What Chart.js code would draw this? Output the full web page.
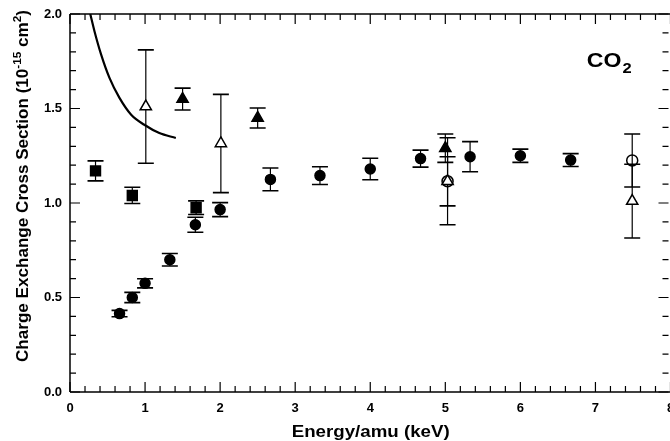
<!DOCTYPE html>
<html>
<head>
<meta charset="utf-8">
<script src="https://cdn.jsdelivr.net/npm/chart.js@4.4.1/dist/chart.umd.min.js"></script>
<style>
  html, body { margin: 0; padding: 0; background: #fff; overflow: hidden; width: 670px; height: 441px; }
  #wrap { width: 679px; height: 441px; }
</style>
</head>
<body>
<div id="wrap"><canvas id="chart"></canvas></div>
<script>
const FONT = '"Liberation Sans", Arial, Helvetica, sans-serif';

// axis ticks
const xTickValues = [0, 1, 2, 3, 4, 5, 6, 7, 8];
const yTickValues = [0.0, 0.5, 1.0, 1.5, 2.0];

// filled squares
const squareX = [0.34, 0.83, 1.68];
const squareY = [1.17, 1.04, 0.975];
const squareErr = [0.053, 0.043, 0.036];

// filled circles
const circleX = [0.66, 0.83, 1.0, 1.33, 1.67, 2.0, 2.67, 3.33, 4.0, 4.67, 5.33, 6.0, 6.67];
const circleY = [0.415, 0.50, 0.575, 0.70, 0.885, 0.965, 1.125, 1.145, 1.18, 1.235, 1.245, 1.25, 1.227];
const circleErr = [0.017, 0.027, 0.024, 0.033, 0.04, 0.037, 0.06, 0.047, 0.057, 0.045, 0.08, 0.035, 0.034];

// filled triangles
const triX = [1.5, 2.5, 5.0];
const triY = [1.55, 1.45, 1.29];
const triErr = [0.058, 0.053, 0.075];

// open triangles
const openTriX = [1.01, 2.01, 5.03, 7.49];
const openTriY = [1.51, 1.315, 1.115, 1.01];
const openTriErr = [0.3, 0.26, 0.23, 0.195];

// open circles
const openCircleX = [5.03, 7.49];
const openCircleY = [1.115, 1.225];
const openCircleErr = [0.13, 0.14];

// theory curve
const curveX = [0.27, 0.326, 0.415, 0.526, 0.659, 0.815, 0.99, 1.19, 1.41];
const curveY = [2.0, 1.909, 1.785, 1.662, 1.556, 1.467, 1.414, 1.37, 1.344];

function pts(xs, ys) {
  return xs.map((x, i) => ({ x: x, y: ys[i] }));
}

function markers(label, xs, ys, errs, style, radius, fill) {
  return {
    label: label,
    data: pts(xs, ys),
    errors: errs,
    showLine: false,
    pointStyle: style,
    pointRadius: radius,
    pointBackgroundColor: fill,
    pointBorderColor: "#000",
    pointBorderWidth: 1.5
  };
}

const errorBars = {
  id: "errorBars",
  beforeDatasetsDraw(chart) {
    const ctx = chart.ctx;
    const x = chart.scales.x, y = chart.scales.y;
    ctx.save();
    ctx.strokeStyle = "#000";
    chart.data.datasets.forEach(ds => {
      if (!ds.errors) return;
      ds.data.forEach((p, i) => {
        const e = ds.errors[i];
        const px = x.getPixelForValue(p.x);
        const top = y.getPixelForValue(p.y + e);
        const bot = y.getPixelForValue(p.y - e);
        ctx.lineWidth = 1.2;
        ctx.beginPath();
        ctx.moveTo(px, top);
        ctx.lineTo(px, bot);
        ctx.stroke();
        ctx.lineWidth = 1.6;
        ctx.beginPath();
        ctx.moveTo(px - 8, top); ctx.lineTo(px + 8, top);
        ctx.moveTo(px - 8, bot); ctx.lineTo(px + 8, bot);
        ctx.stroke();
      });
    });
    ctx.restore();
  }
};

const frame = {
  id: "frame",
  afterDraw(chart) {
    const ctx = chart.ctx;
    const a = chart.chartArea;
    const x = chart.scales.x, y = chart.scales.y;
    ctx.save();
    ctx.strokeStyle = "#000";
    ctx.lineWidth = 1.5;
    ctx.beginPath();
    ctx.moveTo(a.left, a.top); ctx.lineTo(a.right, a.top);
    ctx.moveTo(a.left, a.top); ctx.lineTo(a.left, a.bottom);
    ctx.moveTo(a.left, a.bottom); ctx.lineTo(a.right, a.bottom);
    ctx.stroke();

    ctx.lineWidth = 1.2;
    ctx.beginPath();
    for (let i = 0; i <= 40; i++) {
      const v = i * 0.2;
      const px = x.getPixelForValue(v);
      const len = i % 5 === 0 ? 10 : 6;
      ctx.moveTo(px, a.bottom); ctx.lineTo(px, a.bottom - len);
      ctx.moveTo(px, a.top); ctx.lineTo(px, a.top + len);
    }
    for (let i = 0; i <= 20; i++) {
      const v = i * 0.1;
      const py = y.getPixelForValue(v);
      const len = i % 5 === 0 ? 10 : 6;
      ctx.moveTo(a.left, py); ctx.lineTo(a.left + len, py);
      ctx.moveTo(a.right - 2, py); ctx.lineTo(a.right - 2 - len, py);
    }
    ctx.stroke();

    // y axis title with superscripts
    ctx.fillStyle = "#000";
    ctx.translate(27.5, 362);
    ctx.rotate(-Math.PI / 2);
    const parts = [
      ["Charge Exchange Cross Section (10", 16, 0],
      ["-15", 11, -6.5],
      [" cm", 16, 0],
      ["2", 11, -6.5],
      [")", 16, 0]
    ];
    let w = 0;
    parts.forEach(p => { ctx.font = "bold " + p[1] + "px " + FONT; w += ctx.measureText(p[0]).width; });
    ctx.scale(352 / w, 1);
    let cx = 0;
    parts.forEach(p => {
      ctx.font = "bold " + p[1] + "px " + FONT;
      ctx.fillText(p[0], cx, p[2]);
      cx += ctx.measureText(p[0]).width;
    });
    ctx.restore();

    // x axis title
    ctx.save();
    ctx.fillStyle = "#000";
    ctx.font = "bold 16px " + FONT;
    const t = "Energy/amu (keV)";
    const tw = ctx.measureText(t).width;
    ctx.translate(291.7, 437);
    ctx.scale(158 / tw, 1);
    ctx.fillText(t, 0, 0);
    ctx.restore();

    // CO2 label
    ctx.save();
    ctx.fillStyle = "#000";
    ctx.translate(586.7, 66.7);
    ctx.scale(1.1, 1);
    ctx.font = "bold 21px " + FONT;
    ctx.fillText("CO", 0, 0);
    const cw = ctx.measureText("CO").width;
    ctx.font = "bold 15px " + FONT;
    ctx.fillText("2", cw + 1, 6);
    ctx.restore();
  }
};

new Chart(document.getElementById("chart"), {
  type: "scatter",
  data: {
    datasets: [
      {
        label: "theory",
        data: pts(curveX, curveY),
        showLine: true,
        borderColor: "#000",
        borderWidth: 2.2,
        pointRadius: 0,
        cubicInterpolationMode: "monotone",
        fill: false
      },
      markers("squares", squareX, squareY, squareErr, "rect", 7, "#000"),
      markers("circles", circleX, circleY, circleErr, "circle", 5, "#000"),
      markers("triangles", triX, triY, triErr, "triangle", 6.5, "#000"),
      markers("open triangles", openTriX, openTriY, openTriErr, "triangle", 6.5, "#fff"),
      markers("open circles", openCircleX, openCircleY, openCircleErr, "circle", 5.5, "rgba(255,255,255,0)")
    ]
  },
  options: {
    responsive: true,
    maintainAspectRatio: false,
    animation: false,
    layout: { padding: { top: 14, right: 0, left: 0, bottom: 0 } },
    plugins: { legend: { display: false }, tooltip: { enabled: false } },
    scales: {
      x: {
        type: "linear",
        min: 0, max: 8,
        grid: { display: false, drawTicks: false },
        border: { display: false },
        afterBuildTicks: s => { s.ticks = xTickValues.map(v => ({ value: v })); },
        afterFit: s => { s.height = 49; s.paddingLeft = 0; s.paddingRight = 0; },
        ticks: {
          padding: 9,
          color: "#000",
          font: { family: FONT, size: 13, weight: "bold" },
          callback: v => String(v)
        }
      },
      y: {
        type: "linear",
        min: 0, max: 2,
        grid: { display: false, drawTicks: false },
        border: { display: false },
        afterBuildTicks: s => { s.ticks = yTickValues.map(v => ({ value: v })); },
        afterFit: s => { s.width = 70; s.paddingTop = 0; s.paddingBottom = 0; },
        ticks: {
          padding: 8,
          color: "#000",
          font: { family: FONT, size: 13, weight: "bold" },
          callback: v => v.toFixed(1)
        }
      }
    }
  },
  plugins: [errorBars, frame]
});
</script>
</body>
</html>
